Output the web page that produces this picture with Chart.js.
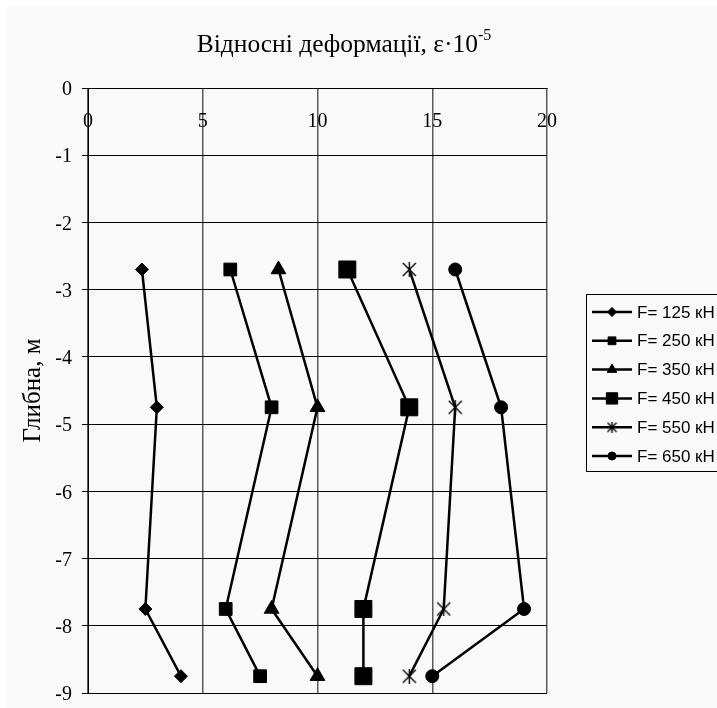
<!DOCTYPE html>
<html>
<head>
<meta charset="utf-8">
<script src="https://cdn.jsdelivr.net/npm/chart.js@4.4.1/dist/chart.umd.min.js"></script>
<style>
  html, body { margin: 0; padding: 0; background: #fff; overflow: hidden; }
  #wrap { width: 717px; height: 708px; }
</style>
</head>
<body>
<div id="wrap"><canvas id="chartDeform" width="717" height="708"></canvas></div>
<script>
// depth of each gauge, m
const depths = [-2.7, -4.75, -7.75, -8.75];
const seriesLabels = ['F= 125 кН', 'F= 250 кН', 'F= 350 кН', 'F= 450 кН', 'F= 550 кН', 'F= 650 кН'];
// relative strain, e-5
const strain125 = [2.35, 3.0, 2.5, 4.05];
const strain250 = [6.2, 8.0, 6.0, 7.5];
const strain350 = [8.3, 10.0, 8.0, 10.0];
const strain450 = [11.3, 14.0, 12.0, 12.0];
const strain550 = [14.0, 16.0, 15.5, 14.0];
const strain650 = [16.0, 18.0, 19.0, 15.0];
const xTicks = [0, 5, 10, 15, 20];
const yTicks = [0, -1, -2, -3, -4, -5, -6, -7, -8, -9];

const serifFont = '"Liberation Serif", "Times New Roman", serif';
const sansFont = '"Liberation Sans", Arial, sans-serif';

// excel-like star marker: an X with a vertical bar
function makeStar(size) {
  const c = document.createElement('canvas');
  c.width = size;
  c.height = size;
  const g = c.getContext('2d');
  g.strokeStyle = '#000';
  g.lineWidth = 1.4;
  const e = size - 1;
  const m = Math.floor(size / 2) + 0.5;
  g.beginPath();
  g.moveTo(1, 1); g.lineTo(e, e);
  g.moveTo(e, 1); g.lineTo(1, e);
  g.moveTo(m, 0); g.lineTo(m, size);
  g.stroke();
  return c;
}

const markerStyles = ['rectRot', 'rect', 'triangle', 'rect', makeStar(15), 'circle'];
const markerRadius = [6.5, 9, 8.5, 12, 7, 6.5];
const legendStyles = ['rectRot', 'rect', 'triangle', 'rect', makeStar(11), 'circle'];
const legendRadius = [4.5, 5.5, 5.5, 8, 5, 4];

function toPoints(values) {
  return values.map((v, i) => ({ x: v, y: depths[i] }));
}

const allSeries = [strain125, strain250, strain350, strain450, strain550, strain650];
const datasets = allSeries.map((values, i) => ({
  label: seriesLabels[i],
  data: toPoints(values),
  showLine: true,
  borderColor: '#000',
  backgroundColor: '#000',
  borderWidth: 2.5,
  pointStyle: markerStyles[i],
  pointRadius: markerRadius[i],
  pointBorderWidth: 1,
  pointBackgroundColor: '#000',
  pointBorderColor: '#000',
  clip: false,
}));

const backgroundPlugin = {
  id: 'sheetBackground',
  beforeDraw(chart) {
    const ctx = chart.ctx;
    ctx.save();
    ctx.fillStyle = '#fff';
    ctx.fillRect(0, 0, chart.width, chart.height);
    ctx.fillStyle = '#f9f9f9';
    ctx.fillRect(7, 7, chart.width - 7, chart.height - 7);
    ctx.restore();
  }
};

const titlesPlugin = {
  id: 'titles',
  afterDraw(chart) {
    const ctx = chart.ctx;
    const area = chart.chartArea;
    ctx.save();
    ctx.fillStyle = '#000';
    // main title with superscript
    const main = 'Відносні деформації, ε·10';
    const sup = '-5';
    ctx.font = '25.5px ' + serifFont;
    const wMain = ctx.measureText(main).width;
    ctx.font = '16px ' + serifFont;
    const wSup = ctx.measureText(sup).width;
    let x = 344 - (wMain + wSup) / 2;
    ctx.textBaseline = 'alphabetic';
    ctx.textAlign = 'left';
    ctx.font = '25.5px ' + serifFont;
    ctx.fillText(main, x, 52);
    ctx.font = '16px ' + serifFont;
    ctx.fillText(sup, x + wMain, 40);
    // y axis title
    ctx.translate(33, (area.top + area.bottom) / 2);
    ctx.rotate(-Math.PI / 2);
    ctx.font = '25px ' + serifFont;
    ctx.textAlign = 'center';
    ctx.textBaseline = 'middle';
    ctx.fillText('Глибна, м', 0, 0);
    ctx.restore();
  }
};

const legendPlugin = {
  id: 'sideLegend',
  afterDraw(chart) {
    const ctx = chart.ctx;
    const left = chart.chartArea.right + 39;
    const top = 294;
    ctx.save();
    ctx.strokeStyle = '#000';
    ctx.lineWidth = 1;
    ctx.strokeRect(left + 0.5, top + 0.5, 300, 177);
    ctx.font = '17px ' + sansFont;
    ctx.textBaseline = 'middle';
    ctx.textAlign = 'left';
    chart.data.datasets.forEach((ds, i) => {
      const y = top + 18 + i * 28.8;
      ctx.beginPath();
      ctx.lineWidth = 2.5;
      ctx.strokeStyle = '#000';
      ctx.moveTo(left + 6, y);
      ctx.lineTo(left + 46, y);
      ctx.stroke();
      ctx.lineWidth = 1;
      ctx.fillStyle = '#000';
      Chart.helpers.drawPoint(ctx, { pointStyle: legendStyles[i], radius: legendRadius[i], borderWidth: 1, rotation: 0 }, left + 26, y);
      ctx.fillStyle = '#000';
      ctx.fillText(ds.label, left + 51, y + 1);
    });
    ctx.restore();
  }
};

const chartDeform = new Chart(document.getElementById('chartDeform'), {
  type: 'scatter',
  data: { datasets: datasets },
  plugins: [backgroundPlugin, titlesPlugin, legendPlugin],
  options: {
    responsive: false,
    animation: false,
    layout: { padding: { top: 88, right: 170, bottom: 15, left: 0 } },
    plugins: {
      legend: { display: false },
      title: { display: false },
      tooltip: { enabled: false },
    },
    scales: {
      x: {
        type: 'linear',
        position: { y: 0 },
        min: 0,
        max: 20,
        afterBuildTicks: (scale) => { scale.ticks = xTicks.map(v => ({ value: v })); },
        afterFit: (scale) => { scale.paddingTop = 0; scale.paddingBottom = 0; },
        ticks: { font: { family: serifFont, size: 20 }, color: '#000', padding: 22 },
        grid: { color: '#5a5a5a', lineWidth: 1.5, drawTicks: false },
        border: { color: '#000', width: 1 },
      },
      y: {
        type: 'linear',
        position: 'left',
        min: -9,
        max: 0,
        afterBuildTicks: (scale) => { scale.ticks = yTicks.map(v => ({ value: v })); },
        afterFit: (scale) => { scale.width = 88; scale.paddingTop = 0; scale.paddingBottom = 0; },
        ticks: { font: { family: serifFont, size: 20 }, color: '#000', padding: 10, labelOffset: 2 },
        grid: { color: '#000', lineWidth: 1, tickLength: 6 },
        border: { color: '#000', width: 1 },
      },
    },
  },
});
</script>
</body>
</html>
